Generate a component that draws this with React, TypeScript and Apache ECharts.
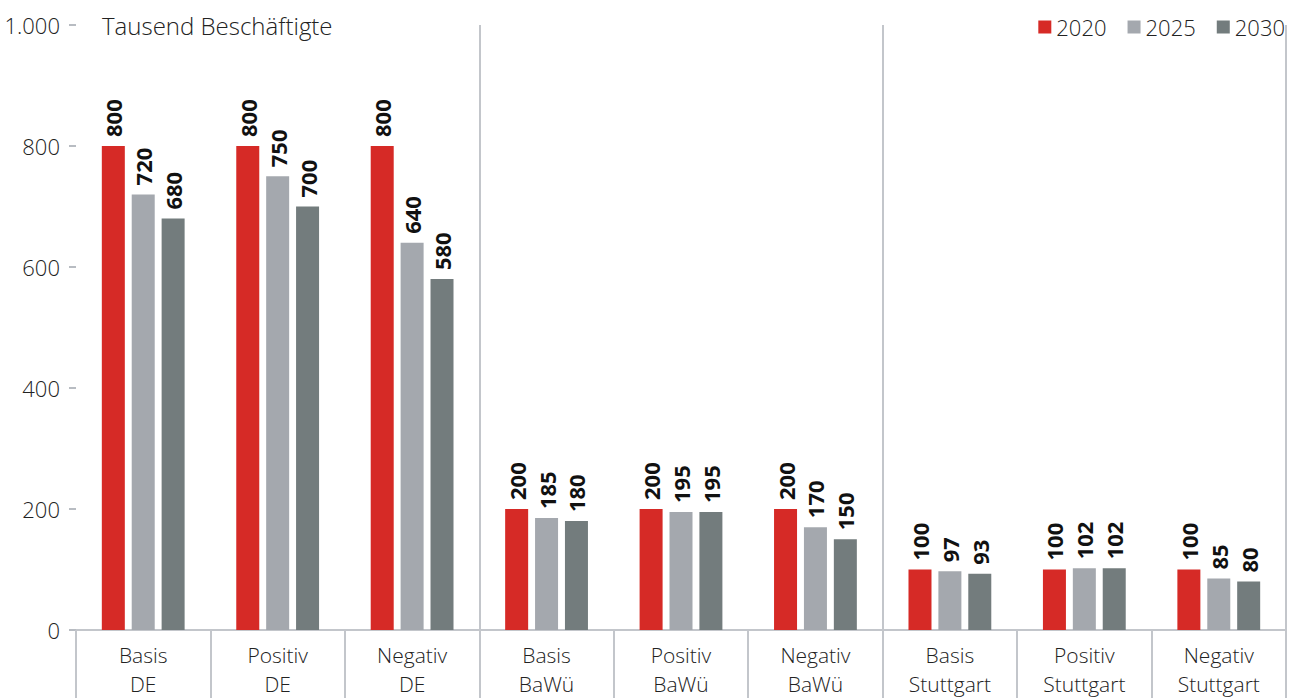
import React, { useEffect, useRef } from "react";
import * as echarts from "echarts";

const categories = [
  "Basis\nDE", "Positiv\nDE", "Negativ\nDE",
  "Basis\nBaWü", "Positiv\nBaWü", "Negativ\nBaWü",
  "Basis\nStuttgart", "Positiv\nStuttgart", "Negativ\nStuttgart",
];
const seriesNames = ["2020", "2025", "2030"];
const values2020 = [800, 800, 800, 200, 200, 200, 100, 100, 100];
const values2025 = [720, 750, 640, 185, 195, 170, 97, 102, 85];
const values2030 = [680, 700, 580, 180, 195, 150, 93, 102, 80];
const colors = ["#d62a26", "#a4a8ae", "#737c7d"];
const yTicks = [0, 200, 400, 600, 800, 1000];

const FONT = "'Open Sans', 'Noto Sans', sans-serif";

export default function App() {
  const ref = useRef<HTMLDivElement>(null);
  useEffect(() => {
    if (!ref.current) return;
    const chart = echarts.init(ref.current, undefined, { renderer: "svg" });
    const data = [values2020, values2025, values2030];
    chart.setOption({
      animation: false,
      textStyle: { fontFamily: FONT },
      title: {
        text: "Tausend Beschäftigte",
        left: 97,
        top: 8,
        textStyle: { fontFamily: FONT, fontSize: 24, fontWeight: 300, color: "#222" },
      },
      legend: {
        right: 12,
        top: 11,
        itemWidth: 13,
        itemHeight: 13,
        itemGap: 21,
        icon: "rect",
        textStyle: { fontFamily: FONT, fontSize: 22, fontWeight: 300, color: "#222" },
        data: seriesNames,
      },
      grid: { left: 76, right: 16, top: 25, bottom: 68, containLabel: false },
      xAxis: {
        type: "category",
        data: categories,
        axisLine: { lineStyle: { color: "#c3c6cb", width: 2 } },
        axisTick: { show: true, interval: 0, length: 70, lineStyle: { color: "#c3c6cb", width: 2 } },
        axisLabel: {
          interval: 0,
          margin: 10,
          fontSize: 21,
          fontWeight: 300,
          lineHeight: 29,
          color: "#222",
          fontFamily: FONT,
        },
        splitLine: {
          show: true,
          interval: (index: number) => index === 3 || index === 6,
          lineStyle: { color: "#c3c6cb", width: 2 },
        },
      },
      yAxis: {
        type: "value",
        min: 0,
        max: yTicks[yTicks.length - 1],
        interval: 200,
        axisLine: { show: false },
        axisTick: { show: true, length: 7, lineStyle: { color: "#b8bcc2", width: 2 } },
        splitLine: { show: false },
        axisLabel: {
          margin: 16,
          fontSize: 22,
          fontWeight: 300,
          color: "#222",
          fontFamily: FONT,
          formatter: (v: number) => (v >= 1000 ? (v / 1000).toFixed(0) + "." + String(v % 1000).padStart(3, "0") : String(v)),
        },
      },
      series: seriesNames.map((name, i) => ({
        name,
        type: "bar",
        data: data[i],
        barWidth: 23,
        barGap: "30%",
        itemStyle: { color: colors[i] },
        label: {
          show: true,
          position: "top",
          rotate: 90,
          align: "left",
          verticalAlign: "middle",
          distance: 9,
          fontSize: 22,
          fontWeight: "bold",
          color: "#111",
          fontFamily: FONT,
        },
      })),
    });
    return () => chart.dispose();
  }, []);
  return <div ref={ref} style={{ width: 1302, height: 698, position: "absolute", left: 0, top: 0 }} />;
}
